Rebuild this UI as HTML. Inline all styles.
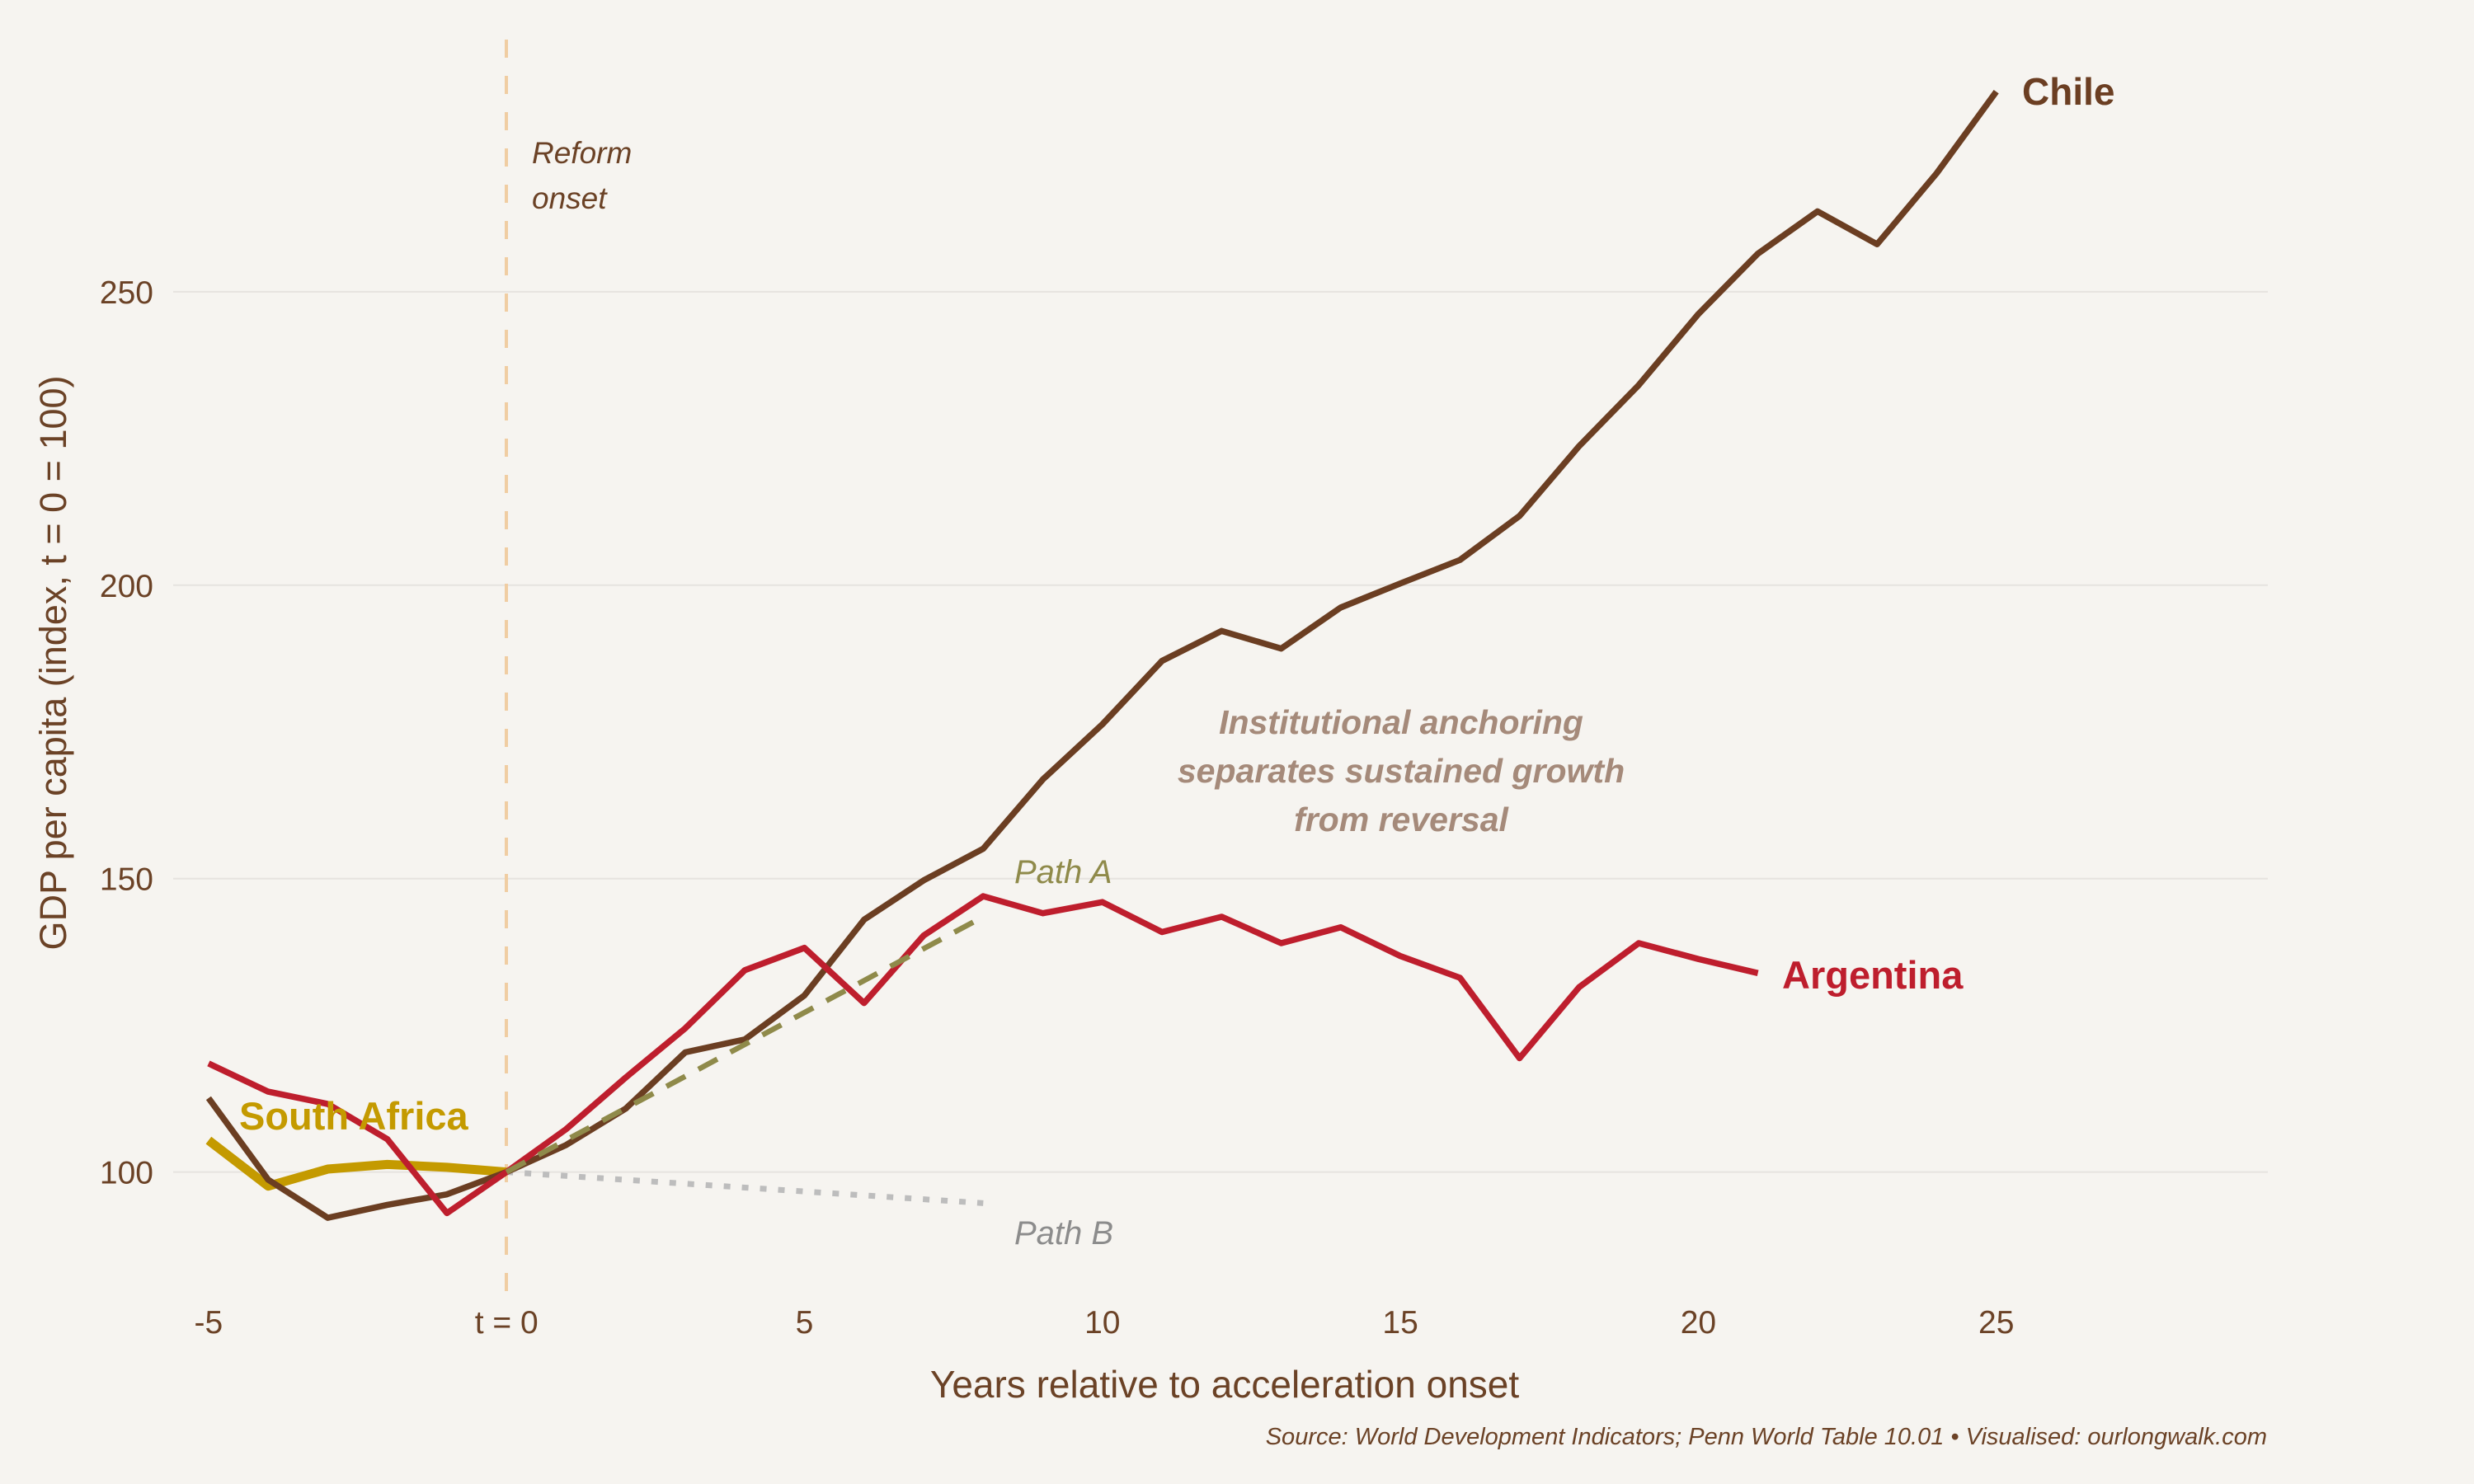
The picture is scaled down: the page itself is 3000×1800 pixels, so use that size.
<!DOCTYPE html>
<html><head><meta charset="utf-8"><style>
html,body{margin:0;padding:0;background:#f6f4f0;}
svg{display:block;font-family:"Liberation Sans",sans-serif;}
</style></head><body>
<svg id="chart" width="3000" height="1800" viewBox="0 0 3000 1800" xmlns="http://www.w3.org/2000/svg">
<rect x="0" y="0" width="3000" height="1800" fill="#f6f4f0"/>
<g id="grid"></g>
<g id="ticks"></g>
<line x1="614" y1="48" x2="614" y2="1566" stroke="#f0cda2" stroke-width="4" stroke-dasharray="22,22"/>
<text x="645" y="198" font-size="37" font-style="italic" fill="#6b4226">Reform</text>
<text x="645" y="253" font-size="37" font-style="italic" fill="#6b4226">onset</text>
<g id="series"></g>
<text x="1699" y="890" font-size="41" font-weight="bold" font-style="italic" fill="#a58a7a" text-anchor="middle">Institutional anchoring</text>
<text x="1699" y="949" font-size="41" font-weight="bold" font-style="italic" fill="#a58a7a" text-anchor="middle">separates sustained growth</text>
<text x="1699" y="1008" font-size="41" font-weight="bold" font-style="italic" fill="#a58a7a" text-anchor="middle">from reversal</text>
<text x="2452" y="127" font-size="46" font-weight="bold" fill="#6b3e22">Chile</text>
<text x="2161" y="1199" font-size="47" font-weight="bold" fill="#be1e2d">Argentina</text>
<text x="290" y="1370" font-size="47" font-weight="bold" fill="#c49a00">South Africa</text>
<text x="1230" y="1071" font-size="40" font-style="italic" fill="#8f8a4a">Path A</text>
<text x="1230" y="1509" font-size="40" font-style="italic" fill="#8c8c8c">Path B</text>
<text x="1485" y="1695" font-size="46" fill="#6b4226" text-anchor="middle">Years relative to acceleration onset</text>
<text transform="translate(80,804) rotate(-90)" font-size="45" fill="#6b4226" text-anchor="middle">GDP per capita (index, t = 0 = 100)</text>
<text x="2749" y="1752" font-size="29" font-style="italic" fill="#6b4226" text-anchor="end">Source: World Development Indicators; Penn World Table 10.01 • Visualised: ourlongwalk.com</text>
</svg>
<script>
const years = [-5,-4,-3,-2,-1,0,1,2,3,4,5,6,7,8,9,10,11,12,13,14,15,16,17,18,19,20,21,22,23,24,25];
const chileValues = [112.6,98.7,92.2,94.4,96.2,100,104.6,110.8,120.4,122.6,130.1,143,149.7,155.1,166.9,176.3,187.1,192.2,189.2,196.2,200.3,204.3,211.8,223.7,234.1,246.2,256.5,263.7,258.1,270.2,284.1];
const argentinaValues = [118.5,113.7,111.6,105.6,93,100,107.3,116.1,124.5,134.4,138.2,128.8,140.3,147,144.1,146,140.9,143.5,139,141.7,136.8,133.1,119.4,131.5,139,136.3,133.9];
const southAfricaValues = [105.4,97.6,100.5,101.3,100.8,100];
const pathYears = [0,8];
const pathAValues = [100,143.5];
const pathBValues = [100,94.7];
const yTicks = [100,150,200,250];
const xTicks = [-5,0,5,10,15,20,25];
const xTickLabels = ["-5","t = 0","5","10","15","20","25"];

const NS = "http://www.w3.org/2000/svg";
const xs = t => 614.2 + 72.26 * t;
const ys = v => 1421.6 - (v - 100) * 7.118;

const grid = document.getElementById('grid');
const ticks = document.getElementById('ticks');
yTicks.forEach(v => {
  const l = document.createElementNS(NS,'line');
  
  
  l.setAttribute('x1', 210); l.setAttribute('x2', 2750);
  l.setAttribute('y1', ys(v)); l.setAttribute('y2', ys(v));
  l.setAttribute('stroke', '#e6e3df'); l.setAttribute('stroke-width', 2);
  grid.appendChild(l);
  const t = document.createElementNS(NS,'text');
  
  
  t.setAttribute('x', 186); t.setAttribute('y', ys(v) + 14);
  t.setAttribute('text-anchor', 'end'); t.setAttribute('font-size', 39); t.setAttribute('fill', '#6b4226');
  t.textContent = v;
  ticks.appendChild(t);
});
xTicks.forEach((v, i) => {
  const t = document.createElementNS(NS,'text');
  
  
  t.setAttribute('x', xs(v)); t.setAttribute('y', 1617);
  t.setAttribute('text-anchor', 'middle'); t.setAttribute('font-size', 39); t.setAttribute('fill', '#6b4226');
  t.textContent = xTickLabels[i];
  ticks.appendChild(t);
});

const series = document.getElementById('series');
function line(xv, yv, color, w, dash, name) {
  const p = document.createElementNS(NS,'polyline');
  
  
  p.setAttribute('points', yv.map((v, i) => xs(xv[i]) + ',' + ys(v)).join(' '));
  p.setAttribute('fill', 'none'); p.setAttribute('stroke', color); p.setAttribute('stroke-width', w);
  p.setAttribute('stroke-linejoin', 'round');
  if (dash) p.setAttribute('stroke-dasharray', dash);
  series.appendChild(p);
}
line(pathYears, pathBValues, '#bdbdbd', 7, '8,14', 'path-b-line');
line(years.slice(0, southAfricaValues.length), southAfricaValues, '#c49a00', 11, null, 'south-africa-line');
line(years.slice(0, chileValues.length), chileValues, '#6b3e22', 7.5, null, 'chile-line');
line(years.slice(0, argentinaValues.length), argentinaValues, '#be1e2d', 7.5, null, 'argentina-line');
line(pathYears, pathAValues, '#8f8a4a', 6.5, '26,18', 'path-a-line');
</script>
</body></html>
